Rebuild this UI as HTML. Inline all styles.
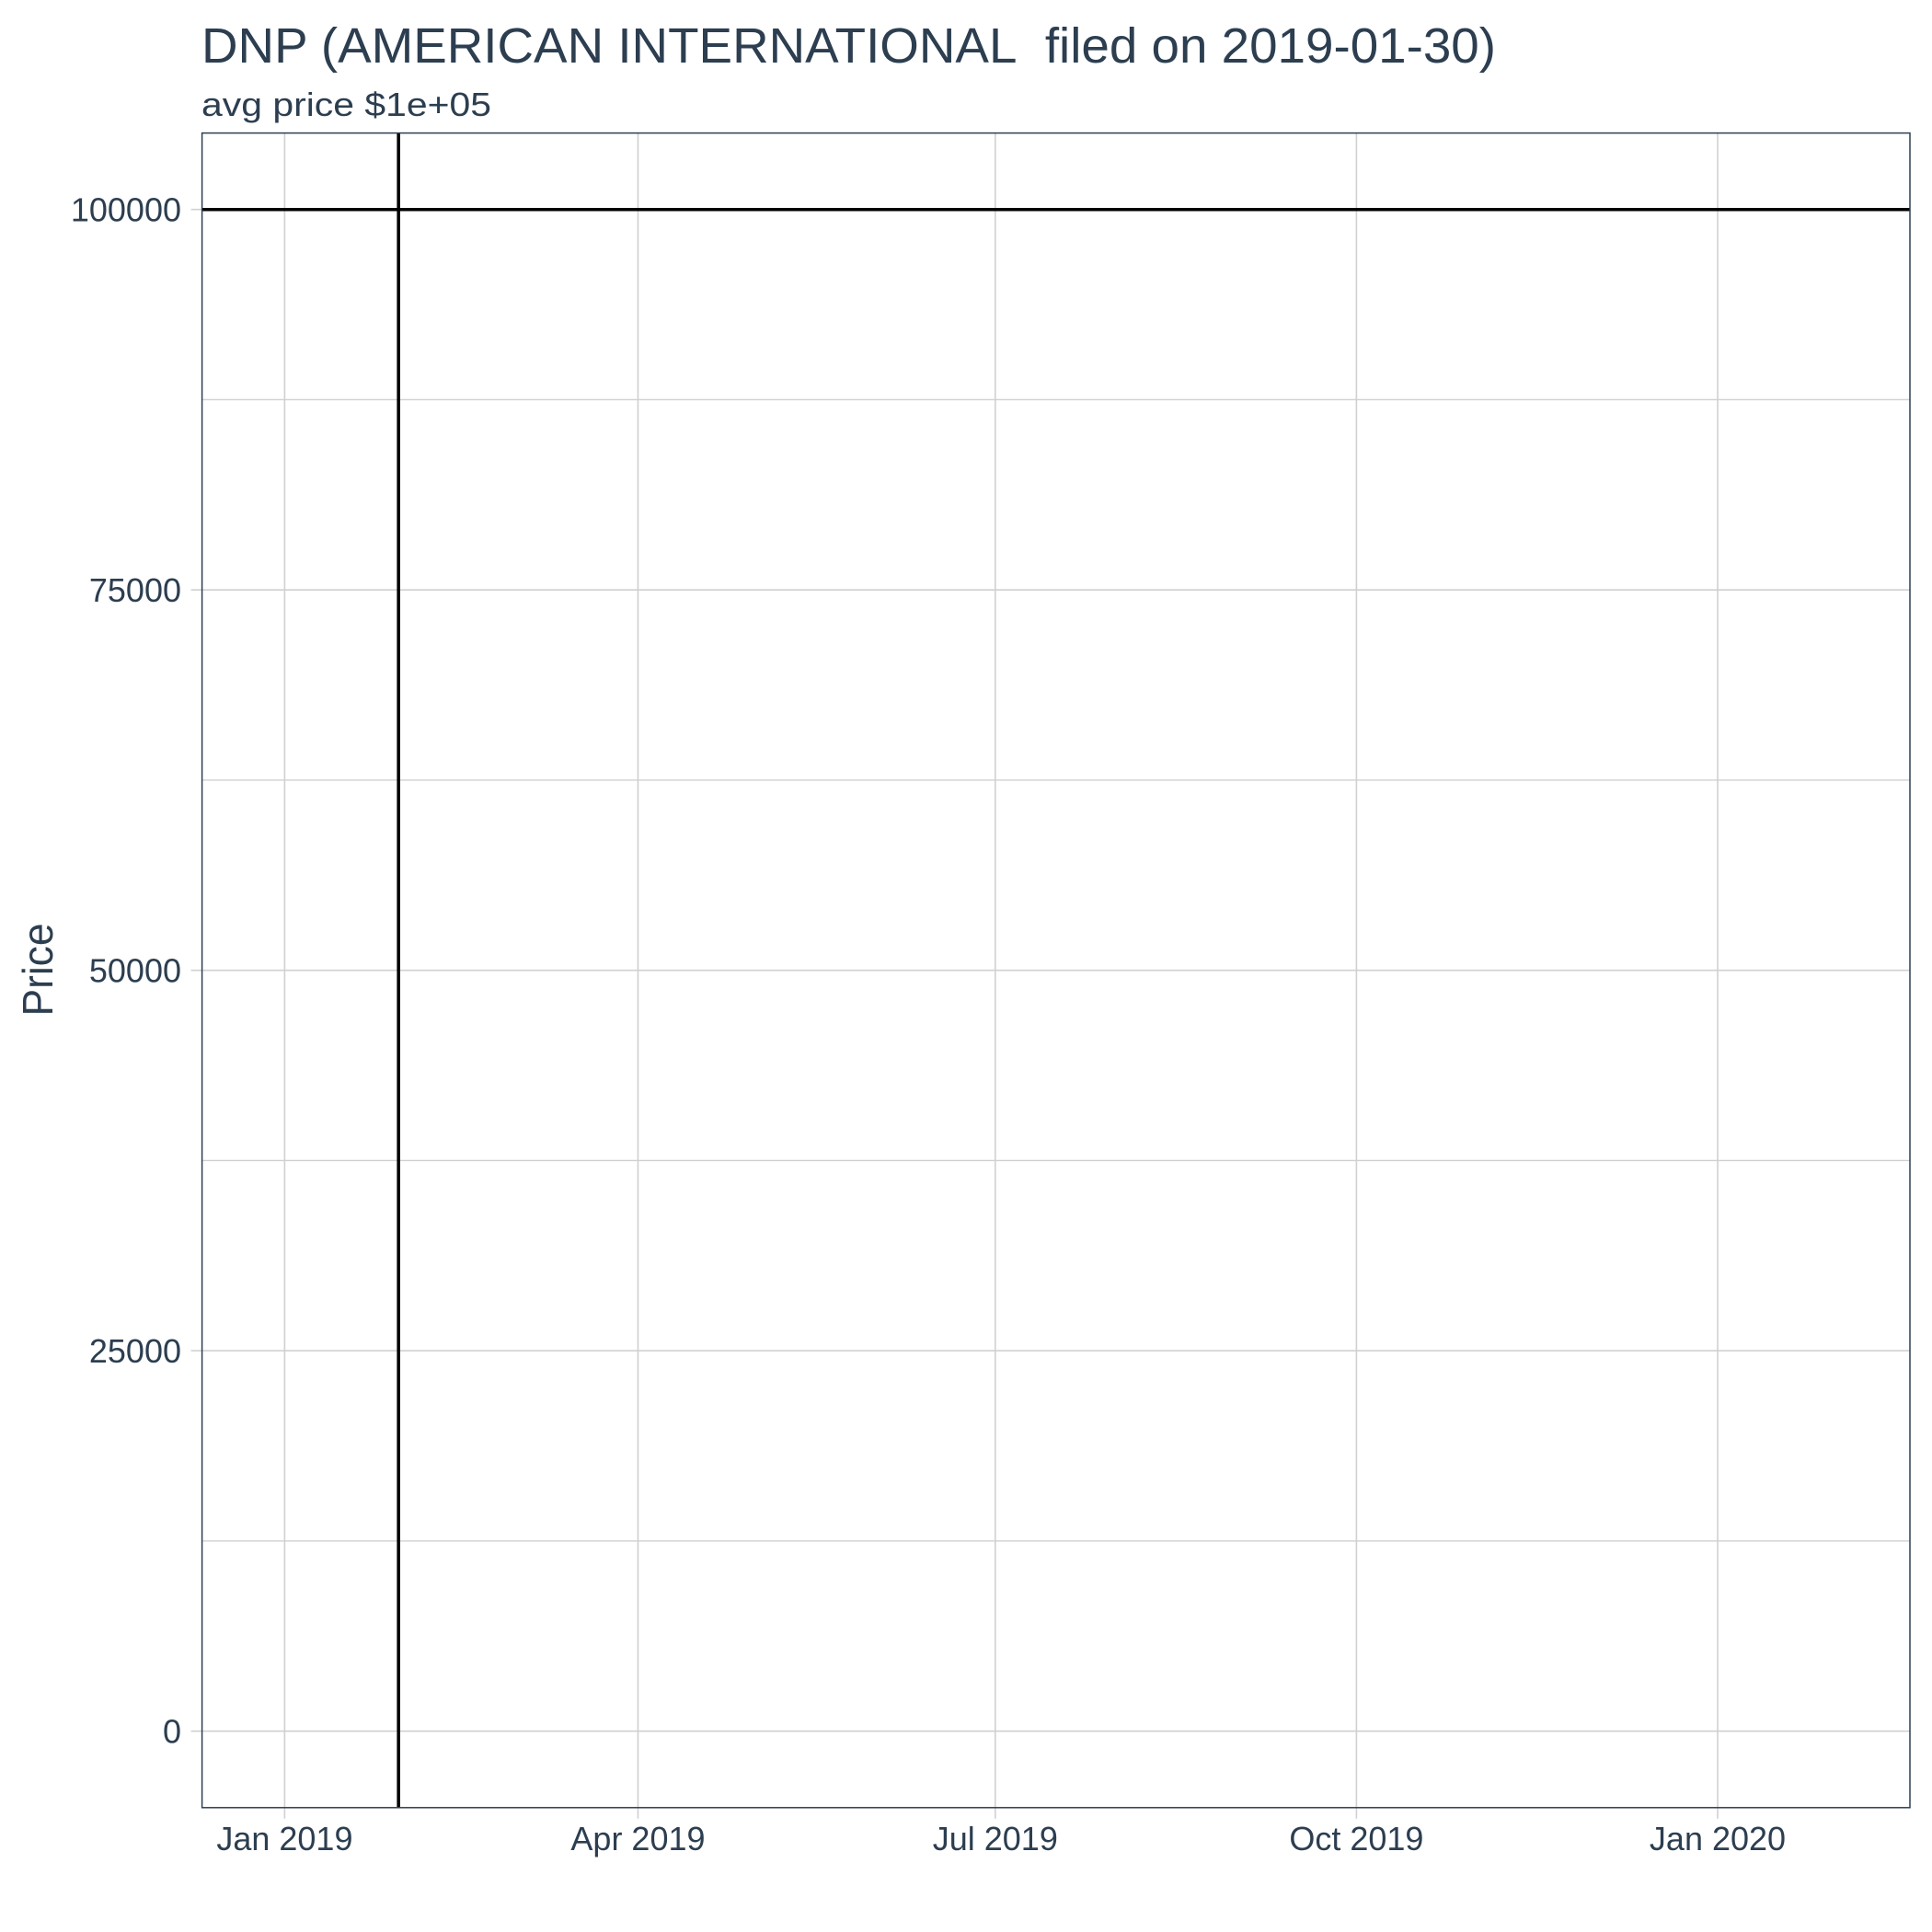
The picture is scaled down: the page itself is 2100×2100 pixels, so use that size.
<!DOCTYPE html>
<html><head><meta charset="utf-8"><style>
html,body{margin:0;padding:0;background:#fff;}
svg{display:block;font-family:"Liberation Sans",Arial,sans-serif;}
</style></head><body>
<svg id="chart" width="2100" height="2100" viewBox="0 0 2100 2100">
<text x="219" y="68" font-size="54" fill="#2c3e50" textLength="1407" lengthAdjust="spacingAndGlyphs">DNP (AMERICAN INTERNATIONAL&#160; filed on 2019-01-30)</text>
<text x="219" y="126" font-size="36" fill="#2c3e50" textLength="315" lengthAdjust="spacingAndGlyphs">avg price $1e+05</text>
<text transform="translate(57,1054) rotate(-90)" text-anchor="middle" font-size="46" fill="#2c3e50" textLength="101" lengthAdjust="spacingAndGlyphs">Price</text>
<g id="grid"></g>
<g id="marks"></g>
<rect x="219.6" y="144.6" width="1856.4" height="1820.2" fill="none" stroke="#2c3e50" stroke-width="1.5"/>
<g id="axes"></g>
</svg>
<script>
const yTicks = [0, 25000, 50000, 75000, 100000];
const yMinor = [12500, 37500, 62500, 87500];
const xTickLabels = ["Jan 2019", "Apr 2019", "Jul 2019", "Oct 2019", "Jan 2020"];
const xTickDates = ["2019-01-01", "2019-04-01", "2019-07-01", "2019-10-01", "2020-01-01"];
const avgPrice = [100000];
const filingDates = ["2019-01-30"];

const NS = "http://www.w3.org/2000/svg";
const L = 219.6, R = 2076, T = 144.6, B = 1964.8;
const origin = Date.UTC(2019, 0, 1);
function dayOf(s){ const p = s.split("-"); return (Date.UTC(+p[0], +p[1]-1, +p[2]) - origin) / 86400000; }
function xs(d){ return 309.4 + d * (1557.6 / 365); }
function ys(v){ return 1881.7 - v * (1654 / 100000); }
function mk(tag, attrs, parent){ const e = document.createElementNS(NS, tag); for (const k in attrs) e.setAttribute(k, attrs[k]); parent.appendChild(e); return e; }
const grid = document.getElementById("grid"), marks = document.getElementById("marks"), axes = document.getElementById("axes");

yMinor.forEach(v => {
  const y = ys(v);
  const el = mk("line", {x1:L, x2:R, y1:y, y2:y, stroke:"#d0d0d0", "stroke-width":1.4}, grid);
  
  
});
yTicks.forEach(v => {
  const y = ys(v);
  const g = mk("line", {x1:L-12, x2:R, y1:y, y2:y, stroke:"#d0d0d0", "stroke-width":1.6}, grid);
  
  
  const t = mk("text", {x:197, y:y+13, "text-anchor":"end", "font-size":36, fill:"#2c3e50"}, axes);
  t.textContent = String(v);
  
  
});
xTickDates.forEach((d, i) => {
  const x = xs(dayOf(d));
  const g = mk("line", {x1:x, x2:x, y1:T, y2:B+12, stroke:"#d0d0d0", "stroke-width":1.6}, grid);
  
  
  const t = mk("text", {x:x, y:2011, "text-anchor":"middle", "font-size":36, fill:"#2c3e50"}, axes);
  t.textContent = xTickLabels[i];
  
  
});
avgPrice.forEach(v => {
  const y = ys(v);
  const el = mk("line", {x1:L, x2:R, y1:y, y2:y, stroke:"#000", "stroke-width":3.5}, marks);
  
  
});
filingDates.forEach(d => {
  const x = xs(dayOf(d));
  const el = mk("line", {x1:x, x2:x, y1:T, y2:B, stroke:"#000", "stroke-width":3.5}, marks);
  
  
});
</script>
</body></html>
